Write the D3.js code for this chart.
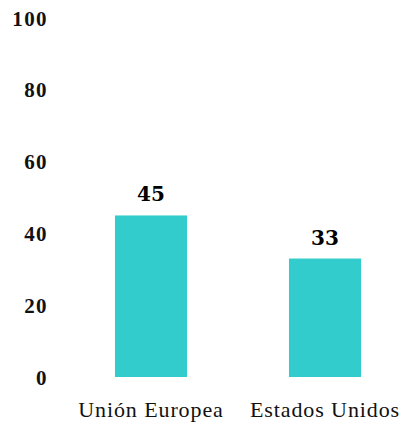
<!DOCTYPE html>
<html>
<head>
<meta charset="utf-8">
<script src="https://cdn.jsdelivr.net/npm/d3@7"></script>
<style>
  body { margin: 0; background: #fff; }
</style>
</head>
<body>
<div id="chart"></div>
<script>
// 数据
var categories = ['Unión Europea', 'Estados Unidos']
var values = [45, 33]
var yTicks = [0, 20, 40, 60, 80, 100]

function drawBarChart() {
  var width = 407
  var height = 425
  var color = '#33cccc'

  var svg = d3.select('#chart').append('svg').attr('width', width).attr('height', height)

  var scaleY = d3.scaleLinear().domain([0, 100]).range([377, 18])

  var scaleX = d3.scaleBand()
    .domain(categories)
    .range([64, 412])
    .paddingInner(0.586)
    .paddingOuter(0.293)

  // 左侧y轴
  var axisLeft = d3.axisLeft(scaleY).tickValues(yTicks).tickSize(0).tickPadding(0)
  var g = svg.append('g').attr('transform', 'translate(48, 0)').call(axisLeft)
  g.select('.domain').remove()
  g.selectAll('text')
    .attr('fill', '#111')
    .attr('dy', '0.34em')
    .style('font-family', '"Liberation Serif", serif')
    .style('font-weight', 'bold')
    .style('font-size', '21px')
    .style('letter-spacing', '1.4px')

  // 柱子
  svg.append('g').selectAll('rect').data(values).enter().append('rect')
    .attr('x', function(d, i) { return scaleX(categories[i]) })
    .attr('y', function(d) { return scaleY(d) })
    .attr('width', scaleX.bandwidth())
    .attr('height', function(d) { return scaleY(0) - scaleY(d) })
    .attr('fill', color)

  // 数值
  svg.append('g').selectAll('text').data(values).enter().append('text')
    .text(function(d) { return d })
    .attr('x', function(d, i) { return scaleX(categories[i]) + scaleX.bandwidth() / 2 })
    .attr('y', function(d) { return scaleY(d) - 14 })
    .attr('text-anchor', 'middle')
    .attr('fill', '#000')
    .style('font-family', '"DejaVu Serif", serif')
    .style('font-weight', 'bold')
    .style('font-size', '20px')

  // x轴
  var axisBottom = d3.axisBottom(scaleX).tickSize(0).tickPadding(0)
  var gx = svg.append('g').attr('transform', 'translate(0, 417)').call(axisBottom)
  gx.select('.domain').remove()
  gx.selectAll('text')
    .attr('y', 0)
    .attr('dy', 0)
    .attr('fill', '#111')
    .style('font-family', '"Liberation Serif", serif')
    .style('font-size', '22px')
    .style('letter-spacing', '0.9px')
}

drawBarChart()
</script>
</body>
</html>
